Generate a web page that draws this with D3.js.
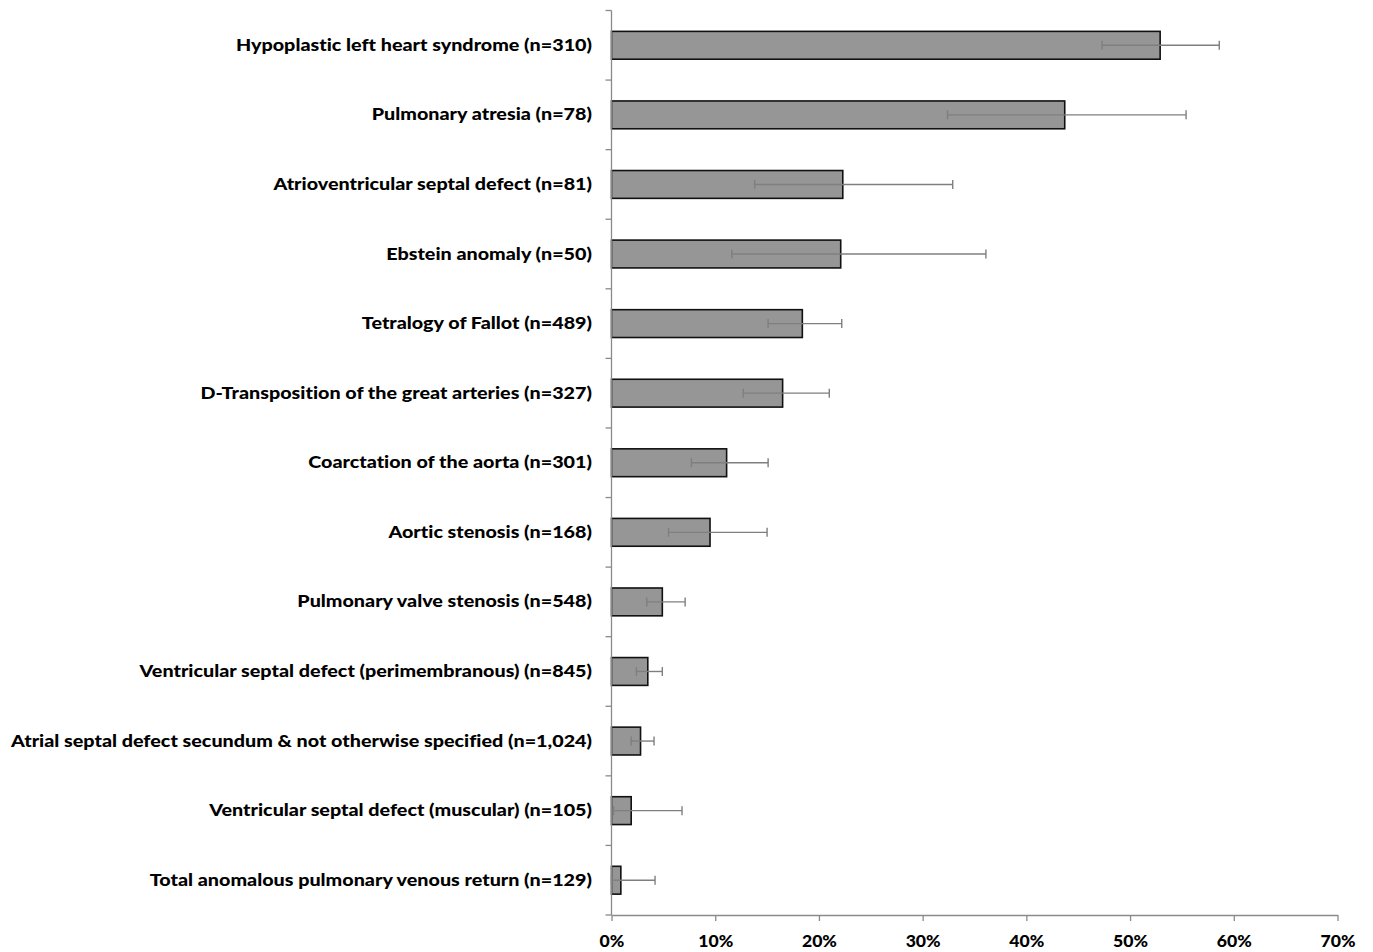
<!DOCTYPE html>
<html><head><meta charset="utf-8">
<script src="https://cdn.jsdelivr.net/npm/d3@7"></script>
<style>body{margin:0;background:#fff;} svg{display:block;}</style>
</head><body>
<svg id="chart" width="1373" height="952"></svg>
<script>
const categories = [
  "Hypoplastic left heart syndrome (n=310)",
  "Pulmonary atresia (n=78)",
  "Atrioventricular septal defect (n=81)",
  "Ebstein anomaly (n=50)",
  "Tetralogy of Fallot (n=489)",
  "D-Transposition of the great arteries (n=327)",
  "Coarctation of the aorta (n=301)",
  "Aortic stenosis (n=168)",
  "Pulmonary valve stenosis (n=548)",
  "Ventricular septal defect (perimembranous) (n=845)",
  "Atrial septal defect secundum & not otherwise specified (n=1,024)",
  "Ventricular septal defect (muscular) (n=105)",
  "Total anomalous pulmonary venous return (n=129)"
];
const values = [52.9, 43.7, 22.3, 22.1, 18.4, 16.5, 11.1, 9.5, 4.9, 3.5, 2.8, 1.9, 0.9];
const lower  = [47.3, 32.4, 13.8, 11.6, 15.1, 12.7, 7.7, 5.5, 3.4, 2.4, 1.9, 0.2, 0.0];
const upper  = [58.6, 55.4, 32.9, 36.1, 22.2, 21.0, 15.1, 15.0, 7.1, 4.9, 4.1, 6.8, 4.2];
const tickValues = [0, 10, 20, 30, 40, 50, 60, 70];

(function () {
const svg = d3.select("#chart");
const mLeft = 611.5, mRight = 1337.5, mTop = 10.5, mBottom = 915;
const x = d3.scaleLinear().domain([0, 70]).range([mLeft, mRight]);
const y = d3.scaleBand().domain(categories).range([mTop, mBottom]).paddingInner(0.6).paddingOuter(0.3);
const font = "Lato, 'Open Sans', sans-serif";

// bars
svg.append("g").selectAll("rect").data(categories).join("rect")
  .attr("x", x(0))
  .attr("y", d => y(d))
  .attr("width", (d, i) => x(values[i]) - x(0))
  .attr("height", y.bandwidth())
  .attr("fill", "#969696")
  .attr("stroke", "#111")
  .attr("stroke-width", 1.6);

// error bars
const eb = svg.append("g").attr("stroke", "#7f7f7f").attr("stroke-width", 1.4);
categories.forEach((c, i) => {
  const cy = y(c) + y.bandwidth() / 2;
  eb.append("line").attr("x1", x(lower[i])).attr("x2", x(upper[i])).attr("y1", cy).attr("y2", cy);
  eb.append("line").attr("x1", x(lower[i])).attr("x2", x(lower[i])).attr("y1", cy - 4.5).attr("y2", cy + 4.5);
  eb.append("line").attr("x1", x(upper[i])).attr("x2", x(upper[i])).attr("y1", cy - 4.5).attr("y2", cy + 4.5);
});

// y axis line and ticks at band boundaries
const axisColor = "#8a8a8a";
svg.append("line").attr("x1", mLeft).attr("x2", mLeft).attr("y1", mTop).attr("y2", mBottom)
  .attr("stroke", axisColor).attr("stroke-width", 1.3);
const bounds = d3.range(categories.length + 1).map(i => mTop + i * (mBottom - mTop) / categories.length);
svg.append("g").selectAll("line").data(bounds).join("line")
  .attr("x1", mLeft - 6).attr("x2", mLeft).attr("y1", d => d).attr("y2", d => d)
  .attr("stroke", axisColor).attr("stroke-width", 1.3);

// x axis
const xAxis = svg.append("g").attr("transform", `translate(0,${mBottom})`)
  .call(d3.axisBottom(x).tickValues(tickValues).tickFormat(d => d + "%").tickSize(6).tickSizeOuter(0));
xAxis.select(".domain").attr("stroke", axisColor).attr("stroke-width", 1.3);
xAxis.selectAll(".tick line").attr("stroke", axisColor).attr("stroke-width", 1.3);
const tt = xAxis.selectAll(".tick text").attr("fill", "#000").attr("font-family", font)
  .attr("font-weight", 900).attr("font-size", 17).attr("dy", null).attr("y", 32)
  .style("font-variant-ligatures", "none");
let w10 = 0;
tt.each(function (d) { if (d === 10) w10 = this.getComputedTextLength(); });
const kt = 35 / w10;
tt.each(function () {
  d3.select(this).attr("textLength", this.getComputedTextLength() * kt).attr("lengthAdjust", "spacingAndGlyphs");
});

// category labels
const labels = svg.append("g").selectAll("text").data(categories).join("text")
  .attr("x", 592)
  .attr("y", d => y(d) + y.bandwidth() / 2 + 5.5)
  .attr("text-anchor", "end")
  .attr("font-family", font)
  .attr("font-weight", 900)
  .attr("font-size", 17.5)
  .attr("fill", "#000")
  .style("font-variant-ligatures", "none")
  .text(d => d);
let maxW = 0;
labels.each(function () { maxW = Math.max(maxW, this.getComputedTextLength()); });
const k = 581 / maxW;
labels.each(function () {
  const w = this.getComputedTextLength();
  d3.select(this).attr("textLength", w * k).attr("lengthAdjust", "spacingAndGlyphs");
});
})();
</script>
</body></html>
